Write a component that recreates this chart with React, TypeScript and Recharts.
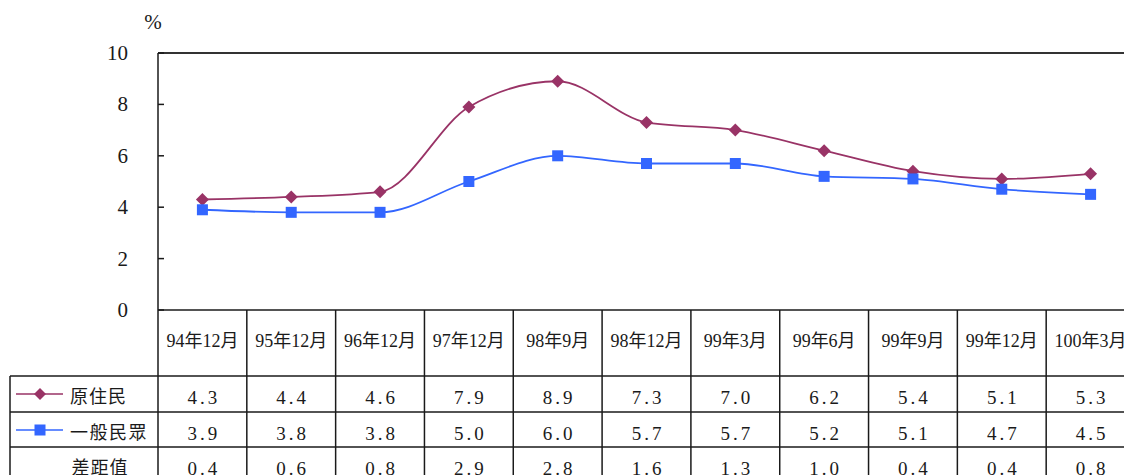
import { LineChart, Line, XAxis, YAxis, ReferenceLine } from "recharts";

const periods = [
  "94年12月",
  "95年12月",
  "96年12月",
  "97年12月",
  "98年9月",
  "98年12月",
  "99年3月",
  "99年6月",
  "99年9月",
  "99年12月",
  "100年3月",
];
const indigenous = [4.3, 4.4, 4.6, 7.9, 8.9, 7.3, 7.0, 6.2, 5.4, 5.1, 5.3];
const general = [3.9, 3.8, 3.8, 5.0, 6.0, 5.7, 5.7, 5.2, 5.1, 4.7, 4.5];
const gap = [0.4, 0.6, 0.8, 2.9, 2.8, 1.6, 1.3, 1.0, 0.4, 0.4, 0.8];
const yTicks = [0, 2, 4, 6, 8, 10];

const data = periods.map((p, i) => ({
  period: p,
  indigenous: indigenous[i],
  general: general[i],
  gap: gap[i],
}));

const W = 1140;
const H = 475;
const TOP = 53;
const LEFT = 158;
const RIGHT = 5;
const AXIS_H = 165;
const BAND = (W - LEFT - RIGHT) / periods.length;

const PURPLE = "#993366";
const BLUE = "#3366FF";
const INK = "#1a1a1a";
const FONT =
  '"Liberation Serif", Tinos, "Times New Roman", "DejaVu Serif", serif, "Noto Sans CJK TC"';

function diamond(cx: number, cy: number, r: number) {
  return `${cx},${cy - r} ${cx + r},${cy} ${cx},${cy + r} ${cx - r},${cy}`;
}

const DiamondDot = (p: any) => {
  if (p.cx == null || p.cy == null) return <g key={p.index} />;
  return <polygon key={p.index} points={diamond(p.cx, p.cy, 6.5)} fill={PURPLE} />;
};

const SquareDot = (p: any) => {
  if (p.cx == null || p.cy == null) return <g key={p.index} />;
  return <rect key={p.index} x={p.cx - 5.5} y={p.cy - 5.5} width={11} height={11} fill={BLUE} />;
};

function YTick(props: any) {
  const { x, y, payload } = props;
  return (
    <g>
      <text
        x={x}
        y={y}
        textAnchor="end"
        dominantBaseline="central"
        style={{ fontFamily: FONT }}
        fontSize={21}
        fill={INK}
      >
        {payload.value}
      </text>
      <line x1={LEFT} x2={LEFT + 6} y1={y} y2={y} stroke={INK} strokeWidth={1.5} />
    </g>
  );
}

// each x tick draws one column of the data table under the plot
function TableColumn(props: any) {
  const { x, y, payload } = props;
  const i = payload.index ?? props.index;
  const l = x - BAND / 2;
  const r = x + BAND / 2;
  const rows = [y + 66, y + 102, y + 137];
  const cells = [indigenous[i], general[i], gap[i]];
  const textProps = {
    style: { fontFamily: FONT },
    fill: INK,
    dominantBaseline: "central" as const,
  };
  return (
    <g>
      <line x1={r} x2={r} y1={y} y2={H + 5} stroke={INK} strokeWidth={1.5} />
      {rows.map((ry) => (
        <line key={ry} x1={l} x2={r} y1={ry} y2={ry} stroke={INK} strokeWidth={1.5} />
      ))}
      <text x={x} y={y + 31} textAnchor="middle" fontSize={18} {...textProps}>
        {payload.value}
      </text>
      {cells.map((v, k) => (
        <text
          key={k}
          x={x + 1.5}
          y={rows[k] + 21}
          textAnchor="middle"
          fontSize={19}
          letterSpacing={3}
          {...textProps}
        >
          {v.toFixed(1)}
        </text>
      ))}
      {i === 0 && (
        <g>
          <line x1={l} x2={l} y1={y} y2={H + 5} stroke={INK} strokeWidth={1.5} />
          <line x1={10} x2={10} y1={rows[0]} y2={H + 5} stroke={INK} strokeWidth={1.5} />
          {rows.map((ry) => (
            <line key={ry} x1={10} x2={l} y1={ry} y2={ry} stroke={INK} strokeWidth={1.5} />
          ))}
          <line x1={16} x2={63} y1={rows[0] + 18} y2={rows[0] + 18} stroke={PURPLE} strokeWidth={1.5} />
          <polygon points={diamond(40, rows[0] + 18, 6)} fill={PURPLE} />
          <text x={70} y={rows[0] + 21} fontSize={18} letterSpacing={1} {...textProps}>
            原住民
          </text>
          <line x1={16} x2={63} y1={rows[1] + 18} y2={rows[1] + 18} stroke={BLUE} strokeWidth={1.5} />
          <rect x={34.5} y={rows[1] + 12.5} width={11} height={11} fill={BLUE} />
          <text x={70} y={rows[1] + 21} fontSize={18} letterSpacing={1.5} {...textProps}>
            一般民眾
          </text>
          <text x={100} y={rows[2] + 21} textAnchor="middle" fontSize={18} letterSpacing={1} {...textProps}>
            差距值
          </text>
        </g>
      )}
    </g>
  );
}

export default function App() {
  return (
    <div
      style={{
        position: "absolute",
        left: 0,
        top: 0,
        width: 1124,
        height: 475,
        overflow: "hidden",
        background: "#fff",
      }}
    >
      <LineChart
        width={W}
        height={H}
        data={data}
        margin={{ top: TOP, right: RIGHT, bottom: 0, left: 0 }}
      >
        <XAxis
          dataKey="period"
          height={AXIS_H}
          interval={0}
          padding={{ left: BAND / 2, right: BAND / 2 }}
          tickSize={0}
          tickMargin={0}
          tick={<TableColumn />}
          axisLine={{ stroke: INK, strokeWidth: 1.5 }}
          tickLine={false}
        />
        <YAxis
          width={LEFT}
          domain={[0, 10]}
          ticks={yTicks}
          interval={0}
          tickSize={0}
          tickMargin={30}
          tick={<YTick />}
          tickLine={false}
          axisLine={{ stroke: INK, strokeWidth: 1.5 }}
          label={{
            content: ({ viewBox }: any) => (
              <text
                x={viewBox.x + viewBox.width - 5}
                y={viewBox.y - 24}
                textAnchor="middle"
                style={{ fontFamily: FONT }}
                fontSize={21}
                fill={INK}
              >
                %
              </text>
            ),
          }}
        />
        <ReferenceLine y={10} stroke="#333" strokeWidth={2} />
        <Line
          type="monotone"
          dataKey="indigenous"
          stroke={PURPLE}
          strokeWidth={1.8}
          dot={DiamondDot}
          activeDot={false}
          isAnimationActive={false}
        />
        <Line
          type="monotone"
          dataKey="general"
          stroke={BLUE}
          strokeWidth={1.8}
          dot={SquareDot}
          activeDot={false}
          isAnimationActive={false}
        />
      </LineChart>
    </div>
  );
}
